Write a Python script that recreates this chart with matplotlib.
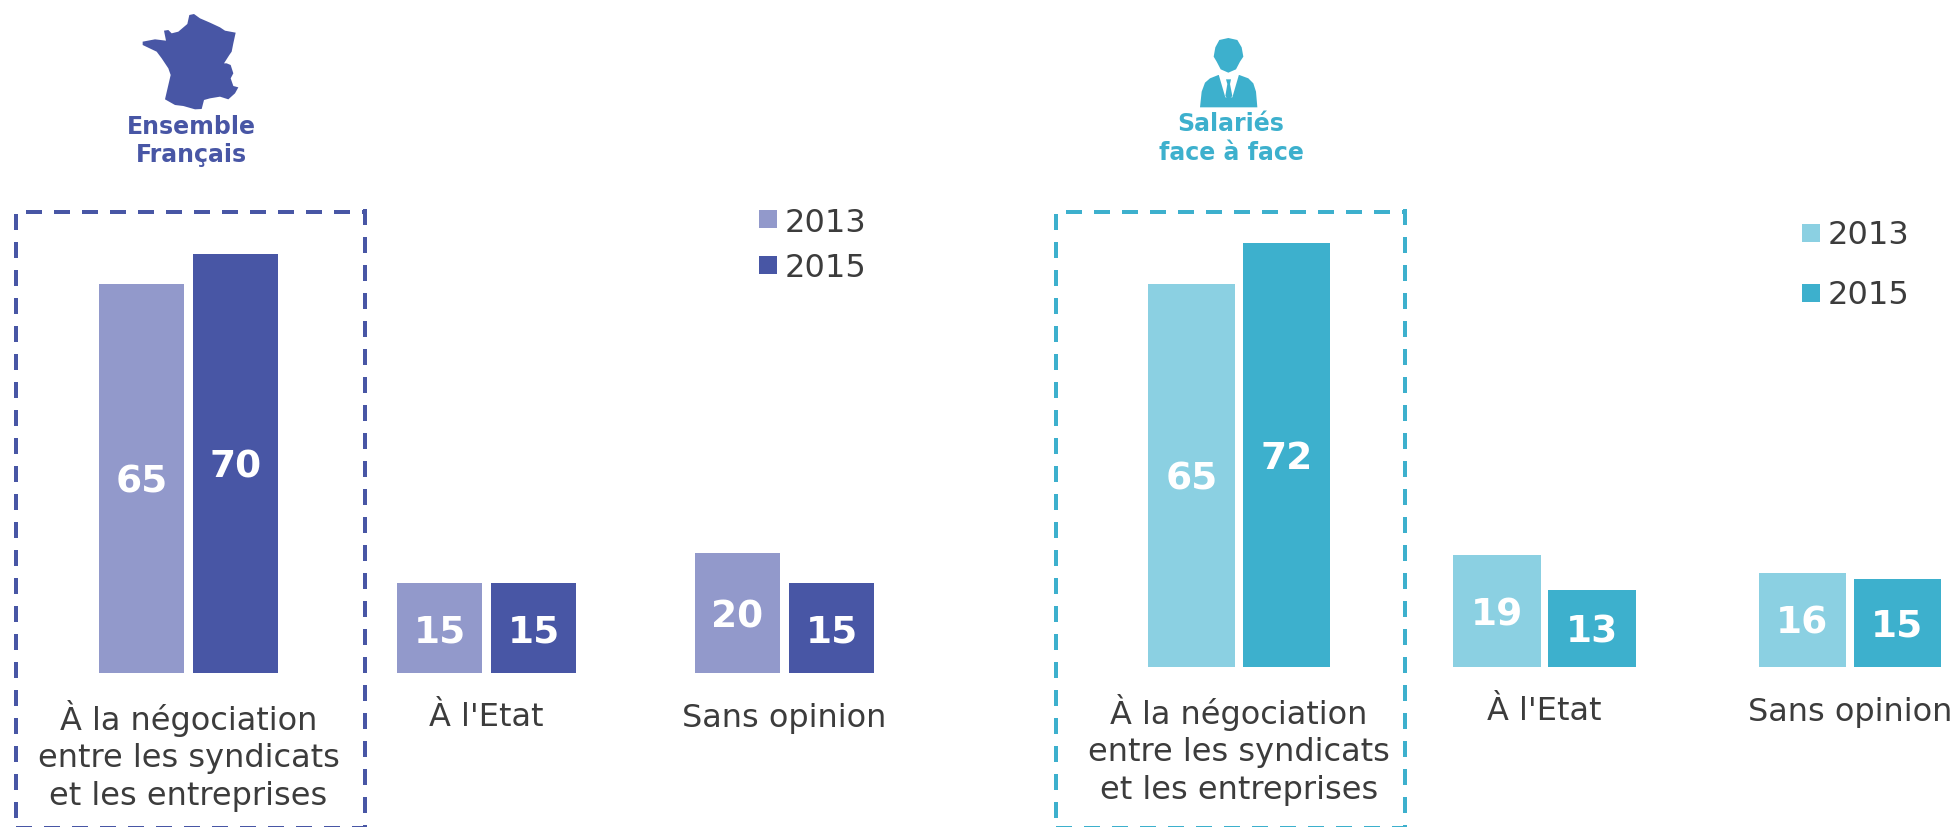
import matplotlib
matplotlib.use('Agg')
import matplotlib.pyplot as plt
from matplotlib.patches import Polygon, Rectangle

W, H = 1955, 827

categories = ["À la négociation\nentre les syndicats\net les entreprises", "À l'Etat", "Sans opinion"]
years = ['2013', '2015']
ensemble_2013 = [65, 15, 20]
ensemble_2015 = [70, 15, 15]
salaries_2013 = [65, 19, 16]
salaries_2015 = [72, 13, 15]

BLUE = '#4856A5'
BLUE_LIGHT = '#9299CB'
TEAL = '#3DB0CD'
TEAL_LIGHT = '#8BD0E2'
TEXT = '#3C3C3C'

# icon outlines, traced on 3x crops of the reference
france_3x = [(268, 45), (282, 42), (300, 55), (330, 68), (360, 82), (375, 92), (407, 98), (400, 130), (395, 155),
             (388, 165), (372, 190), (380, 190), (392, 195), (400, 220), (392, 235), (400, 258), (415, 262),
             (405, 280), (385, 298), (360, 290), (330, 295), (312, 300), (305, 327), (285, 328), (250, 318),
             (225, 315), (195, 298), (205, 255), (212, 225), (205, 205), (185, 175), (170, 155), (128, 135),
             (128, 125), (165, 118), (198, 122), (192, 92), (205, 90), (215, 100), (235, 95), (262, 72)]
head_3x = [(235, 54), (262, 60), (275, 82), (280, 110), (270, 125), (258, 148), (235, 158), (212, 148), (200, 125),
           (191, 110), (196, 82), (208, 60)]
body_3x = [(150, 262), (155, 215), (165, 188), (180, 175), (205, 165), (268, 165), (295, 175), (310, 190), (318, 215),
           (322, 262)]
collar_3x = [(205, 160), (268, 160), (247, 232), (226, 232)]
tie_3x = [(228, 178), (243, 178), (240, 192), (247, 228), (236, 240), (226, 228), (232, 192)]


def crop_to_px(pts, ox, oy):
    return [(ox + x / 3, oy + y / 3) for x, y in pts]


fig = plt.figure(figsize=(W / 100, H / 100), dpi=100)
plt.rcParams['font.family'] = 'DejaVu Sans'
PT = 0.72  # points per pixel at dpi 100


def draw_group(x0, x1, base, ppu, v1, v2, dark, light, width, offset):
    # x range of the axes covers one slot per category
    top = 20
    ax = fig.add_axes([x0 / W, (H - base) / H, (x1 - x0) / W, (base - top) / H])
    ax.set_xlim(-0.5, 2.5)
    ax.set_ylim(0, (base - top) / ppu)
    slot = (x1 - x0) / 3
    w = width / slot
    off = offset / slot
    for i, cat in enumerate(categories):
        for val, col, sign in [(v1[i], light, -1), (v2[i], dark, 1)]:
            ax.bar(i + sign * off, val, w, color=col)
            ax.annotate(str(val), (i + sign * off, val / 2), xytext=(0, -4 * PT), textcoords='offset points',
                        color='white', fontsize=27, fontweight='bold', ha='center', va='center')
        # baseline of the last line sits a fixed distance under the bars
        n_lines = cat.count('\n') + 1
        ax.annotate(cat, (i, 0), xytext=(0, -(53.5 + 39 * (n_lines - 1)) * PT), textcoords='offset points',
                    annotation_clip=False, fontsize=23, color=TEXT, linespacing=1.27,
                    ha='center', va='baseline', multialignment='center')
    ax.set_xticks([])
    ax.set_yticks([])
    for s in ax.spines.values():
        s.set_visible(False)
    ax.patch.set_alpha(0)
    return ax


draw_group(39.5, 933.5, 673, 5.98, ensemble_2013, ensemble_2015, BLUE, BLUE_LIGHT, 85, 47)
draw_group(1086.5, 2002.5, 667, 5.89, salaries_2013, salaries_2015, TEAL, TEAL_LIGHT, 87.5, 47.5)

# overlay in pixel coordinates for icons, boxes and legends
ov = fig.add_axes([0, 0, 1, 1])
ov.set_xlim(0, W)
ov.set_ylim(H, 0)
ov.axis('off')
ov.patch.set_alpha(0)

ov.add_patch(Polygon(crop_to_px(france_3x, 100, 0), closed=True, color=BLUE, lw=0))
ov.add_patch(Polygon(crop_to_px(head_3x, 1150, 20), closed=True, color=TEAL, lw=0))
ov.add_patch(Polygon(crop_to_px(body_3x, 1150, 20), closed=True, color=TEAL, lw=0))
ov.add_patch(Polygon(crop_to_px(collar_3x, 1150, 20), closed=True, color='white', lw=0))
ov.add_patch(Polygon(crop_to_px(tie_3x, 1150, 20), closed=True, color=TEAL, lw=0))


def dashed_box(x0, x1, col):
    y0, y1 = 212, 828
    dash = (0, (4, 3))
    for xs, ys in [([x0, x0], [y0 + 2, y1]), ([x0 + 10, x1], [y0, y0]), ([x1, x1], [y0 - 3, y1]), ([x0, x1], [y1, y1])]:
        ov.plot(xs, ys, color=col, lw=2.88, ls=dash, dash_capstyle='butt')


dashed_box(16, 365, BLUE)
dashed_box(1056, 1405, TEAL)
ov.set_xlim(0, W)
ov.set_ylim(H, 0)

ov.text(191, 127, 'Ensemble', color=BLUE, fontsize=17, fontweight='bold', ha='center', va='center')
ov.text(191, 155, 'Français', color=BLUE, fontsize=17, fontweight='bold', ha='center', va='center')
ov.text(1231, 124, 'Salariés', color=TEAL, fontsize=17, fontweight='bold', ha='center', va='center')
ov.text(1231, 153, 'face à face', color=TEAL, fontsize=17, fontweight='bold', ha='center', va='center')

for yr, col, y, b in zip(years, [BLUE_LIGHT, BLUE], [210, 256], [231.7, 277]):
    ov.add_patch(Rectangle((759, y), 18, 18, color=col, lw=0))
    ov.text(785, b, yr, color=TEXT, fontsize=23, ha='left', va='baseline')
for yr, col, y, b in zip(years, [TEAL_LIGHT, TEAL], [224, 284], [244, 304]):
    ov.add_patch(Rectangle((1802, y), 18, 18, color=col, lw=0))
    ov.text(1828, b, yr, color=TEXT, fontsize=23, ha='left', va='baseline')

fig.savefig('out.png', dpi=100)
